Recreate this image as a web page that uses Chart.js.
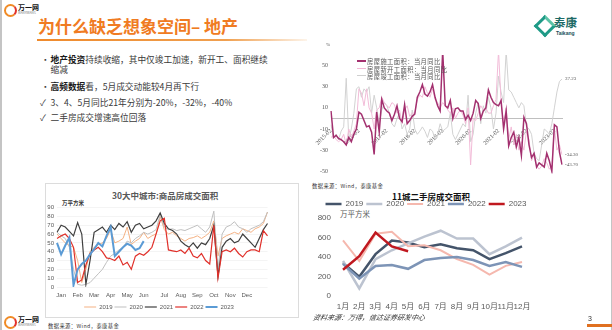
<!DOCTYPE html>
<html><head><meta charset="utf-8">
<script src="https://cdn.jsdelivr.net/npm/chart.js@4.4.0/dist/chart.umd.min.js"></script>
<style>
html,body{margin:0;padding:0;background:#fff;}
#slide{position:relative;width:612px;height:330px;overflow:hidden;background:#fff;font-family:"Noto Sans CJK SC","Liberation Sans",sans-serif;color:#333;}
.abs{position:absolute;white-space:nowrap;}
.bl{font-size:8.7px;line-height:10px;color:#3a3a3a;}
.bl b{color:#1a1a1a;}
canvas{position:absolute;}
</style></head><body>
<div id="slide">
  <div class="abs" style="left:0;top:0;width:1.5px;height:330px;background:#c4c4c4"></div>
  <div class="abs" style="left:610.5px;top:0;width:1.5px;height:330px;background:#c4c4c4"></div>

  <div class="abs" style="left:4px;top:4px;width:9px;height:9px;border-radius:50%;border:2px solid #f08a24;border-right-color:#e2322a;"></div>
  <div class="abs" style="left:18px;top:3px;font-size:7px;font-weight:bold;color:#111;line-height:8px;">万一网</div>
  <div class="abs" style="left:18px;top:11px;font-size:3px;color:#777;line-height:4px;">WANYIWANG</div>

  <div class="abs" style="left:38px;top:15px;font-size:17px;font-weight:bold;color:#f07b22;line-height:22px;">为什么缺乏想象空间– 地产</div>
  <div class="abs" style="left:37px;top:39px;width:270px;height:2px;background:linear-gradient(90deg,#ef8a2c 0%,#f0a050 70%,rgba(245,200,150,0.2) 100%);"></div>

  <div class="abs" style="left:537px;top:18px;width:10px;height:10px;transform:rotate(45deg);border:3px solid #1f9a87;border-top-color:#5cc3a7;"></div>
  <div class="abs" style="left:554px;top:15px;font-size:11.5px;font-weight:bold;color:#1d6a66;line-height:14px;">泰康</div>
  <div class="abs" style="left:556px;top:30px;font-size:5px;font-weight:bold;color:#1d4f5a;line-height:6px;font-family:'Liberation Sans';">Taikang</div>

  <div class="abs bl" style="left:41px;top:55px;">•</div>
  <div class="abs bl" style="left:50.5px;top:55px;"><b>地产投资</b>持续收缩，其中仅竣工加速，新开工、面积继续</div>
  <div class="abs bl" style="left:50.5px;top:65px;">缩减</div>
  <div class="abs bl" style="left:41px;top:81.5px;">•</div>
  <div class="abs bl" style="left:50.5px;top:81.5px;"><b>高频数据</b>看，5月成交动能较4月再下行</div>
  <div class="abs bl" style="left:40px;top:97.5px;">✓</div>
  <div class="abs bl" style="left:50.5px;top:97.5px;">3、4、5月同比21年分别为-20%，-32%，-40%</div>
  <div class="abs bl" style="left:40px;top:113px;">✓</div>
  <div class="abs bl" style="left:50.5px;top:113px;">二手房成交增速高位回落</div>

  <canvas id="c1" width="272" height="136" style="left:312px;top:44px;"></canvas>
  <div class="abs" style="left:326px;top:42px;font-size:5px;font-family:'Liberation Serif';color:#555;">%</div>
  <div class="abs" style="left:357px;top:60px;width:9px;height:1.6px;background:#a3306f"></div>
  <div class="abs" style="left:357px;top:67.5px;width:9px;height:1px;background:#f2b9d6"></div>
  <div class="abs" style="left:357px;top:75px;width:9px;height:1px;background:#cfcfcf"></div>
  <div class="abs" style="left:367px;top:58px;font-size:6.3px;line-height:7.5px;color:#555;letter-spacing:0.4px;">房屋施工面积：当月同比<br>房屋新开工面积：当月同比<br>房屋竣工面积：当月同比</div>
  <div class="abs" style="left:312px;top:182px;font-size:5.3px;color:#333;letter-spacing:0.4px;">数据来源：Wind，泰康基金</div>

  <div class="abs" style="left:45px;top:183px;width:252px;height:133px;border:1px solid #dcdcdc;background:#fff;"></div>
  <div class="abs" style="left:112px;top:190px;font-size:8.5px;font-weight:bold;color:#595959;line-height:11px;">30大中城市:商品房成交面积</div>
  <div class="abs" style="left:62px;top:200px;font-size:5.5px;font-weight:bold;color:#333;line-height:7px;">万平方米</div>
  <canvas id="c2" width="226" height="119" style="left:46px;top:201.4px;"></canvas>
  <div class="abs" style="left:48px;top:322px;font-size:5.3px;color:#333;letter-spacing:0.4px;">数据来源：Wind，泰康基金</div>

  <div class="abs" style="left:4px;top:316px;width:9px;height:9px;border-radius:50%;border:2px solid #f08a24;border-right-color:#e2322a;"></div>
  <div class="abs" style="left:18px;top:315px;font-size:7px;font-weight:bold;color:#111;line-height:8px;">万一网</div>
  <div class="abs" style="left:18px;top:323px;font-size:3px;color:#777;line-height:4px;">WANYIWANG</div>

  <div class="abs" style="left:392px;top:191px;font-size:8.5px;font-weight:bold;color:#111;line-height:11px;">11城二手房成交面积</div>
  <div class="abs" style="left:340px;top:209px;font-size:7.5px;color:#595959;line-height:9px;">万平方米</div>
  <canvas id="c3" width="228" height="116" style="left:312px;top:197px;"></canvas>
  <div class="abs" style="left:312px;top:313px;font-size:7px;font-style:italic;color:#333;line-height:9px;transform:skewX(-12deg);transform-origin:left bottom;">资料来源：万得，信达证券研发中心</div>

  <div class="abs" style="left:588px;top:315px;font-size:7px;color:#333;font-family:'Liberation Sans';">3</div>
  <div class="abs" style="left:587px;top:324px;width:25px;height:3px;background:#e07020;"></div>
</div>
<script>
// ---------- Chart 1: 房屋面积当月同比 (Feb–Dec each year) ----------
const years1 = ['2015','2016','2017','2018','2019','2020','2021','2022','2023'];
const months1 = ['02','03','04','05','06','07','08','09','10','11','12'];
const shigongArea = [
  7,-18,-16,-19,-20,-22,-25,-18,-22,-15,-10,
  6,4,-2,-8,-7,-13,-34,6,-13,18,10,
  7,5,-2,4,12,0,-3,13,-5,-2,2,
  4,20,25,32,23,21,25,32,20,12,7,
  64,12,10,17,0,9,10,7,7,-1,3,
  -2,5,17,14,0,7,10,27,20,15,13,
  12,17,-10,7,-26,-18,-13,-27,-18,-35,1,
  -5,-25,-37,-33,-46,-42,-44,-46,-33,-40,-50,
  -6,-8,-32,-43.70];
const xinkaigongArea = [
  -18,-16,-20,-22,-20,-15,-25,-10,-18,-12,-5,
  28,24,12,28,10,5,-10,8,10,20,15,
  12,10,15,13,5,8,-5,8,12,2,5,
  5,18,22,20,30,24,20,28,18,15,10,
  15,12,8,5,10,0,5,8,3,-5,10,
  -44,0,-2,5,12,8,10,5,5,12,18,
  64,15,-5,10,-20,-8,-25,-15,-30,-22,-30,
  -12,-20,-40,-35,-45,-48,-45,-38,-42,-48,-45,
  -9,-30,-25,-34.30];
const jungongArea = [
  -6,-19,-15,-20,-12,-8,38,-20,-10,5,28,
  30,20,28,25,30,5,22,10,-5,8,15,
  12,5,-5,-8,0,5,-10,-5,-15,-10,8,
  -10,-15,-12,-8,-12,-18,-10,-12,-20,-15,-5,
  -12,-10,-8,5,-15,-20,-15,-10,-5,-8,22,
  -22,-15,5,15,-5,12,5,20,10,-10,5,
  40,25,15,64,27,25,20,15,10,15,12,
  -8,-10,-15,-33,-38,-40,-25,-10,-12,-15,-5,
  10,25,35,37.23];
const yTicks1 = [-50,-30,-10,10,30,50];
const monthLabels1 = [];
years1.forEach(y => months1.forEach(m => monthLabels1.push(y + '-' + m)));
monthLabels1.length = shigongArea.length;

// ---------- Chart 2: 30大中城市商品房成交面积 (weekly) ----------
const monthNames2 = ['Jan','Feb','Mar','Apr','May','Jun','Jul','Aug','Sep','Oct','Nov','Dec'];
const monthTickWeek2 = [1,5,9,13,17,21,26,30,34,38,42,46];
const city2019 = [60,55,50,47,45,30,5,20,40,45,48,50,55,65,50,52,55,68,48,52,55,62,55,58,60,80,65,60,62,58,55,52,55,56,58,55,58,62,75,35,55,58,60,62,60,66,64,62,66,68,72,85];
const city2020 = [62,58,55,45,20,3,2,3,5,10,15,20,28,35,38,42,45,52,50,55,58,62,60,62,65,82,68,65,66,64,65,64,66,68,70,66,62,68,86,20,60,68,70,74,68,66,62,66,68,70,74,85];
const city2021 = [62,70,68,63,58,73,60,3,30,62,65,68,62,70,65,72,68,74,62,70,72,66,68,70,75,84,72,66,64,60,52,48,45,50,44,50,48,55,70,12,45,52,55,50,52,60,55,50,45,55,65,72];
const city2022 = [55,58,60,55,45,5,8,25,38,42,45,40,33,32,30,35,25,28,20,35,38,36,40,45,60,75,78,42,41,40,42,38,44,35,33,38,30,26,70,10,40,42,40,44,38,34,40,42,42,40,64,58];
const city2023 = [50,37,47,56,2,20,26,30,37,43,50,46,58,68,35,40,45,49,47,42,44,52];
const weekLabels2 = city2019.map((_, i) => 'W' + (i + 1));

// ---------- Chart 3: 11城二手房成交面积 (monthly) ----------
const months3 = ['1月','2月','3月','4月','5月','6月','7月','8月','9月','10月','11月','12月'];
const resale2019 = [340,200,430,570,550,500,530,490,470,380,440,510];
const resale2020 = [360,80,380,470,540,610,670,590,590,430,510,600];
const resale2021 = [570,360,640,660,510,520,470,380,320,220,310,350];
const resale2022 = [330,180,310,320,280,370,390,400,370,310,350,300];
const resale2023 = [270,410,650,510,460];

const noEvents = {responsive:false, animation:false, events:[]};

const endLabels = {
  id:'endLabels',
  afterDatasetsDraw(chart){
    const {ctx, chartArea, scales} = chart;
    ctx.save();
    ctx.font = '5px "Liberation Serif"';
    ctx.fillStyle = '#555';
    ctx.textBaseline = 'middle';
    chart.data.datasets.forEach(ds => {
      const v = ds.data[ds.data.length - 1];
      ctx.fillText(v.toFixed(2), chartArea.right + 3, scales.y.getPixelForValue(v));
    });
    ctx.restore();
  }
};

new Chart(document.getElementById('c1'), {
  type:'line',
  data:{labels:monthLabels1, datasets:[
    {label:'房屋施工面积：当月同比', data:shigongArea, borderColor:'#a3306f', borderWidth:1.5, pointRadius:0},
    {label:'房屋新开工面积：当月同比', data:xinkaigongArea, borderColor:'#f2bcd8', borderWidth:1, pointRadius:0},
    {label:'房屋竣工面积：当月同比', data:jungongArea, borderColor:'#d2d2d2', borderWidth:1, pointRadius:0}
  ]},
  options:{...noEvents,
    layout:{padding:{top:11, right:22, bottom:0, left:0}},
    plugins:{legend:{display:false}, tooltip:{enabled:false}},
    scales:{
      x:{position:{y:0}, grid:{display:false}, border:{display:true, color:'#bfbfbf', width:1},
         ticks:{autoSkip:false, minRotation:45, maxRotation:45, padding:1, color:'#555',
                font:{family:'Liberation Serif', size:6},
                callback:(v,i)=> monthLabels1[i].endsWith('-02') ? monthLabels1[i] : ''}},
      y:{min:-52, max:60, grid:{display:false, drawTicks:false}, border:{display:false},
         afterBuildTicks:s=>{ s.ticks = yTicks1.map(v=>({value:v})); },
         afterFit:s=>{ s.width = 19; },
         ticks:{padding:3, color:'#555', font:{family:'Liberation Serif', size:6}}}
    }
  },
  plugins:[endLabels]
});

new Chart(document.getElementById('c2'), {
  type:'line',
  data:{labels:weekLabels2, datasets:[
    {label:'2019', data:city2019, borderColor:'#f4b183', borderWidth:1, pointRadius:0, order:4},
    {label:'2020', data:city2020, borderColor:'#bfbfbf', borderWidth:1, pointRadius:0, order:3},
    {label:'2021', data:city2021, borderColor:'#3f3f3f', borderWidth:1.2, pointRadius:0, order:2},
    {label:'2022', data:city2022, borderColor:'#e0302a', borderWidth:1.2, pointRadius:0, order:1},
    {label:'2023', data:city2023, borderColor:'#5b9bd5', borderWidth:2, pointRadius:0, order:0}
  ]},
  options:{...noEvents,
    layout:{padding:{top:3, right:0, bottom:0, left:0}},
    plugins:{tooltip:{enabled:false},
      legend:{position:'bottom', labels:{usePointStyle:true, pointStyle:'line', pointStyleWidth:12, padding:2,
        color:'#595959', font:{family:'Liberation Sans', size:6}, sort:(a,b)=>a.datasetIndex-b.datasetIndex}}},
    scales:{
      x:{grid:{display:false, drawTicks:false}, border:{display:false},
         afterFit:s=>{ s.height = 15; },
         ticks:{autoSkip:false, maxRotation:0, padding:4.5, color:'#595959', font:{family:'Liberation Sans', size:6},
                callback:(v,i)=>{ const k = monthTickWeek2.indexOf(i); return k>=0 ? monthNames2[k] : ''; }}},
      y:{min:0, max:90, grid:{color:'#ececec', lineWidth:0.6, drawTicks:false}, border:{display:false},
         afterFit:s=>{ s.width = 11; },
         ticks:{stepSize:10, autoSkip:false, padding:3, color:'#595959', font:{family:'Liberation Sans', size:6}}}
    }
  }
});

new Chart(document.getElementById('c3'), {
  type:'line',
  data:{labels:months3, datasets:[
    {label:'2019', data:resale2019, borderColor:'#44546a', borderWidth:2.5, pointRadius:0, order:4},
    {label:'2020', data:resale2020, borderColor:'#bcc3d0', borderWidth:2.5, pointRadius:0, order:3},
    {label:'2021', data:resale2021, borderColor:'#f5b8ae', borderWidth:2, pointRadius:0, order:2},
    {label:'2022', data:resale2022, borderColor:'#7d94b6', borderWidth:2.5, pointRadius:0, order:1},
    {label:'2023', data:resale2023, borderColor:'#c0181f', borderWidth:2.5, pointRadius:0, order:0}
  ]},
  options:{...noEvents,
    layout:{padding:{top:0, right:0, bottom:0, left:0}},
    plugins:{tooltip:{enabled:false},
      legend:{position:'top', labels:{usePointStyle:true, pointStyle:'line', pointStyleWidth:16, padding:3,
        color:'#595959', font:{family:'Liberation Sans', size:8}, sort:(a,b)=>a.datasetIndex-b.datasetIndex}}},
    scales:{
      x:{grid:{display:false, drawTicks:false}, border:{display:false},
         afterFit:s=>{ s.height = 16; },
         ticks:{autoSkip:false, maxRotation:0, minRotation:0, padding:6, color:'#595959', font:{family:'Liberation Sans, Noto Sans CJK SC', size:8}}},
      y:{min:0, max:800, grid:{display:false, drawTicks:false}, border:{display:false},
         afterFit:s=>{ s.width = 31; },
         ticks:{stepSize:200, autoSkip:false, padding:12, color:'#595959', font:{family:'Liberation Sans', size:8}}},
      yR:{position:'right', min:0, max:800, grid:{display:false, drawTicks:false}, border:{display:false}, ticks:{display:false},
         afterFit:s=>{ s.width = 18; }}
    }
  }
});
</script>
</body></html>
